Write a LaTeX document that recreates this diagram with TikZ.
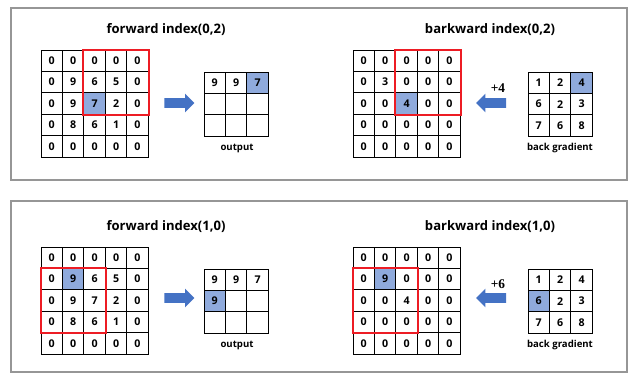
\documentclass[tikz,border=0pt]{standalone}
\usepackage{fontspec}
\setmainfont{Open Sans}
\newfontfamily\gradfont{Liberation Serif}
\usetikzlibrary{shapes.arrows,backgrounds}
\definecolor{PoolBlue}{RGB}{143,170,220}
\definecolor{PoolArrow}{RGB}{68,114,196}
\definecolor{PoolRed}{RGB}{237,28,36}
\definecolor{PoolFrame}{RGB}{150,150,150}
\tikzset{
  pool/frame/.style={draw=PoolFrame, line width=1.1pt},
  pool/cell/.style={
    draw=black,
    line width=0.75pt,
    minimum size=16.05pt,
    inner sep=0pt,
    font=\fontsize{8}{9}\selectfont\bfseries
  },
  pool/window/.style={draw=PoolRed, line width=1.5pt},
  pool/title/.style={font=\fontsize{9.8}{11}\selectfont\bfseries},
  pool/label/.style={font=\fontsize{7.2}{9}\selectfont\bfseries},
  pool/delta/.style={font=\fontsize{10}{11}\selectfont\gradfont\bfseries},
  pool/rarrow/.style={
    single arrow,
    fill=PoolArrow,
    draw=none,
    minimum height=22.5pt,
    inner xsep=0pt,
    inner ysep=3.4pt,
    text height=0pt,
    text depth=0pt,
    single arrow head extend=3.4pt
  },
  pool/larrow/.style={pool/rarrow, shape border rotate=180}
}
% #1 name, #2 left, #3 top, #4 rows
\newcommand{\cellgrid}[4]{%
  \foreach \row [count=\r] in {#4} {
    \foreach \v [count=\c] in \row {
      \node[pool/cell] (#1-\r-\c) at ({#2+(\c-0.5)*21.45},{#3+(\r-0.5)*21.45}) {\v};
    }
  }
}
\newcommand{\markcell}[1]{%
  \begin{scope}[on background layer]
    \fill[PoolBlue] (#1.north west) rectangle (#1.south east);
  \end{scope}
}

\begin{document}
\begin{tikzpicture}[x=0.75pt,y=-0.75pt]
  \useasboundingbox (0,0) rectangle (640,386);
  \draw[pool/frame] (11,8) rectangle (627,180);
  \draw[pool/frame] (11,201) rectangle (627,372);

  % index (0,2)
  \node[pool/title] (fwdtitleA) at (166,30) {forward index(0,2)};
  \node[pool/title] (bwdtitleA) at (490,30) {barkward index(0,2)};
  \cellgrid{fwdA}{41}{50}{{0,0,0,0,0},{0,9,6,5,0},{0,9,7,2,0},{0,8,6,1,0},{0,0,0,0,0}}
  \markcell{fwdA-3-3}
  \draw[pool/window] (fwdA-1-3.north west) rectangle (fwdA-3-5.south east);
  \node[pool/rarrow] (fwdarrowA) at (177,103) {};
  \cellgrid{outA}{204}{72}{{9,9,7},{{},{},{}},{{},{},{}}}
  \markcell{outA-1-3}
  \node[pool/label] (outlabelA) at (237,148) {output};

  \cellgrid{bwdA}{353}{50}{{0,0,0,0,0},{0,3,0,0,0},{0,0,4,0,0},{0,0,0,0,0},{0,0,0,0,0}}
  \markcell{bwdA-3-3}
  \draw[pool/window] (bwdA-1-3.north west) rectangle (bwdA-3-5.south east);
  \node[pool/larrow] (bwdarrowA) at (493.5,103) {};
  \node[pool/delta] (deltaA) at (498,88) {+4};
  \cellgrid{gradA}{528}{72}{{1,2,4},{6,2,3},{7,6,8}}
  \markcell{gradA-1-3}
  \node[pool/label] (gradlabelA) at (560,148) {back gradient};

  % index (1,0)
  \node[pool/title] (fwdtitleB) at (166,227) {forward index(1,0)};
  \node[pool/title] (bwdtitleB) at (490,227) {barkward index(1,0)};
  \cellgrid{fwdB}{41}{247}{{0,0,0,0,0},{0,9,6,5,0},{0,9,7,2,0},{0,8,6,1,0},{0,0,0,0,0}}
  \markcell{fwdB-2-2}
  \draw[pool/window] (fwdB-2-1.north west) rectangle (fwdB-4-3.south east);
  \node[pool/rarrow] (fwdarrowB) at (177,298) {};
  \cellgrid{outB}{204}{269}{{9,9,7},{9,{},{}},{{},{},{}}}
  \markcell{outB-2-1}
  \node[pool/label] (outlabelB) at (237,345) {output};

  \cellgrid{bwdB}{353}{247}{{0,0,0,0,0},{0,9,0,0,0},{0,0,4,0,0},{0,0,0,0,0},{0,0,0,0,0}}
  \markcell{bwdB-2-2}
  \draw[pool/window] (bwdB-2-1.north west) rectangle (bwdB-4-3.south east);
  \node[pool/larrow] (bwdarrowB) at (493.5,298) {};
  \node[pool/delta] (deltaB) at (498,284) {+6};
  \cellgrid{gradB}{528}{269}{{1,2,4},{6,2,3},{7,6,8}}
  \markcell{gradB-2-1}
  \node[pool/label] (gradlabelB) at (560,345) {back gradient};
\end{tikzpicture}
\end{document}
